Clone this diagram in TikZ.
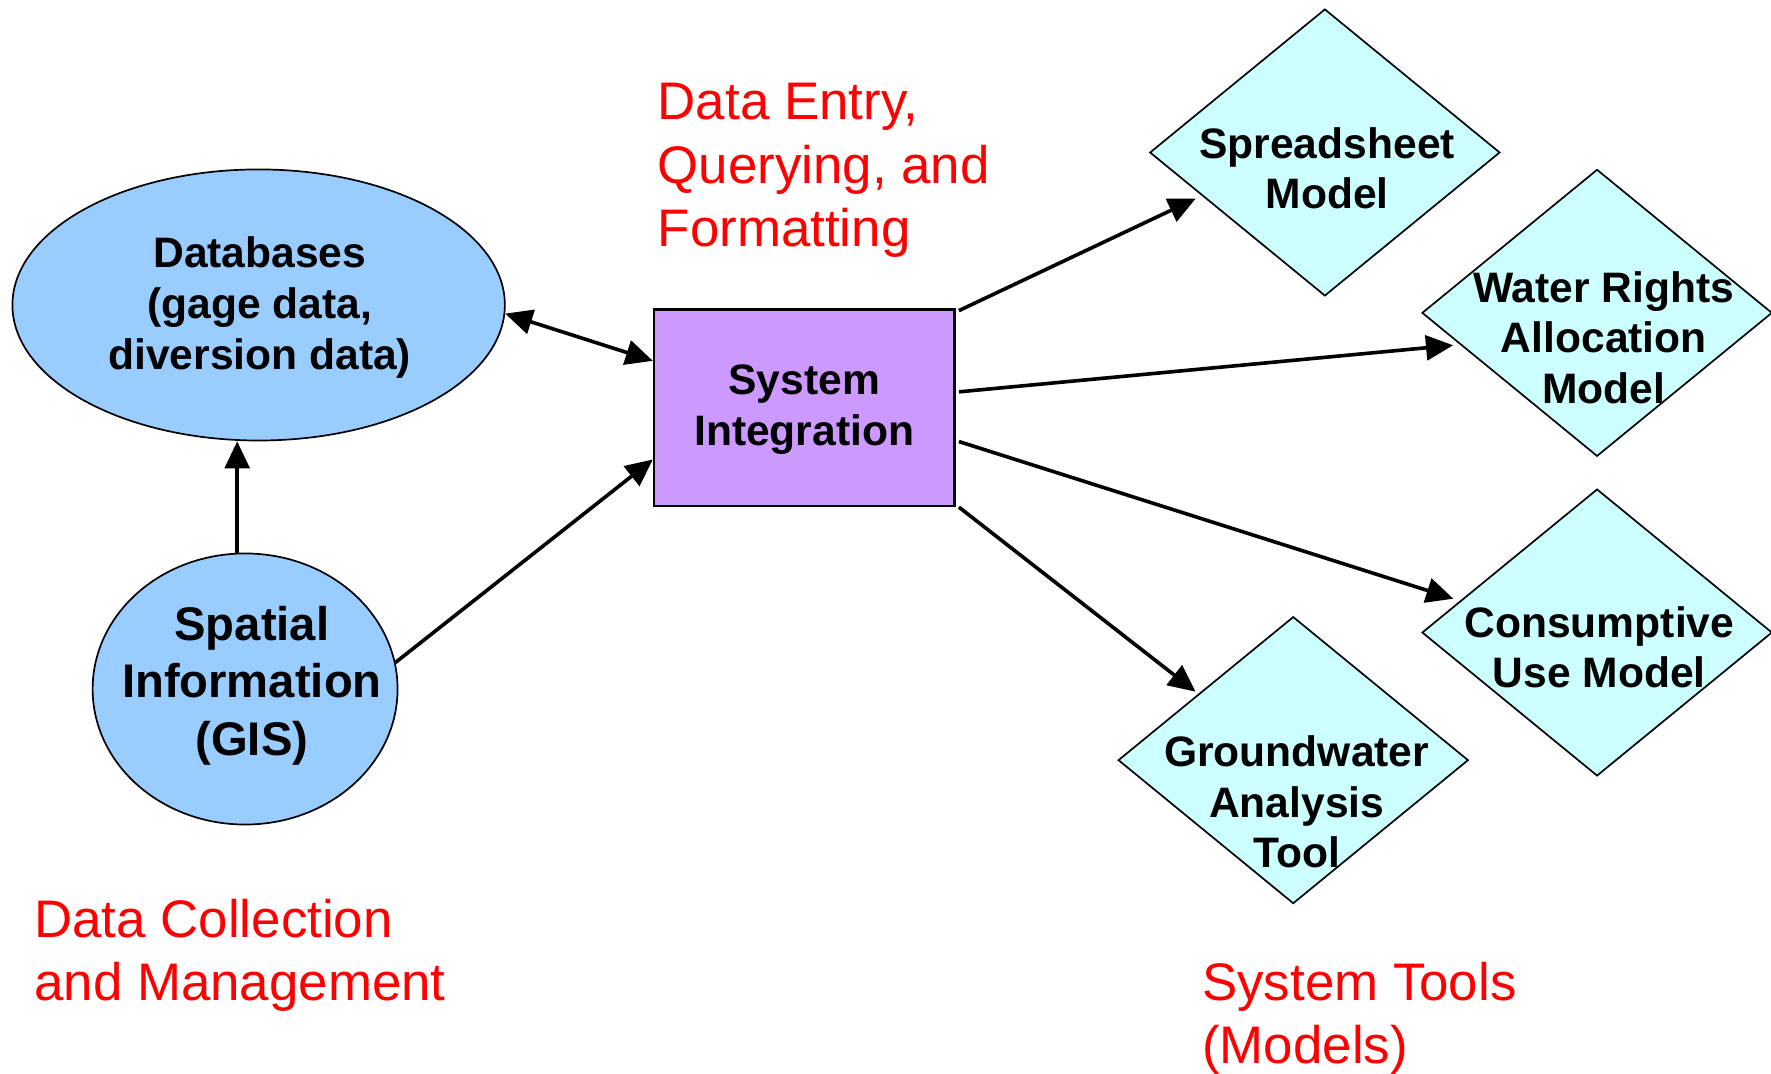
\documentclass[tikz,border=0pt]{standalone}
\usepackage{fontspec}
\setmainfont{Liberation Sans}
\usetikzlibrary{shapes.geometric,arrows.meta,calc}
\definecolor{dbblue}{HTML}{99CCFF}
\definecolor{sipurple}{HTML}{CC99FF}
\definecolor{dcyan}{HTML}{CCFFFF}
\definecolor{redtext}{HTML}{FF0000}
\begin{document}
\begin{tikzpicture}[x=0.5pt,y=-0.5pt,
  blk/.style={font=\fontsize{18.85}{22.5}\selectfont\bfseries, align=center, inner sep=0pt},
  bigblk/.style={font=\fontsize{20.9}{25.5}\selectfont\bfseries, align=center, inner sep=0pt},
  redlbl/.style={text=redtext, font=\fontsize{23.4}{28}\selectfont, align=left, inner sep=0pt, anchor=north west},
  ell/.style={ellipse, draw=black, line width=0.75pt, fill=dbblue, inner sep=0pt},
  dia/.style={diamond, draw=black, line width=0.75pt, fill=dcyan, inner sep=0pt, minimum width=155pt, minimum height=127pt},
  arr/.style={line width=1.6pt, -{Triangle[length=12pt,width=11pt]}},
  darr/.style={line width=1.6pt, {Triangle[length=12pt,width=11pt]}-{Triangle[length=12pt,width=11pt]}}]
\useasboundingbox (0,0) rectangle (1568,950);

% shapes
\node[ell, minimum width=218pt, minimum height=120pt] (db) at (229,270) {};
\node[blk] (dbt) at (230,272) {Databases\\(gage data,\\diversion data)};
\node[ell, minimum width=135pt, minimum height=120pt] (sp) at (217,610) {};
\node[bigblk] (spt) at (223,607) {Spatial\\Information\\(GIS)};
\node[rectangle, draw=black, line width=1pt, fill=sipurple, minimum width=133pt, minimum height=87pt] (si) at (712,361) {};
\node[blk] (sit) at (712,363) {System\\Integration};

\node[dia] (ss) at (1173,135) {};
\node[blk] (sst) at (1175,149) {Spreadsheet\\Model};
\node[dia] (wr) at (1414,277) {};
\node[blk] (wrt) at (1420,299) {Water Rights\\Allocation\\Model};
\node[dia] (cu) at (1414,560) {};
\node[blk] (cut) at (1416,573) {Consumptive\\Use Model};
\node[dia] (gw) at (1145,673) {};
\node[blk] (gwt) at (1148,710) {Groundwater\\Analysis\\Tool};

% red labels
\node[redlbl] (l1) at (582,73.5) {Data Entry,\\Querying, and\\Formatting};
\node[redlbl] (l2) at (30,795.5) {Data Collection\\and Management};
\node[redlbl] (l3) at (1064,851.5) {System Tools\\(Models)};

% connectors
\draw[arr] ([xshift=-3.5pt]sp.north) -- ([xshift=-9.5pt]db.south);
\draw[darr] (db.-2.5) -- ($(si.south west)!0.736!(si.north west)$);
\draw[arr] (sp.10) -- ($(si.south west)!0.24!(si.north west)$);
\draw[arr, shorten >=3pt] ([xshift=1.5pt,yshift=-1pt]si.north east) -- ($(ss.west)!0.3!(ss.south)$);
\draw[arr, shorten >=3pt] ([xshift=1.5pt]$(si.south east)!0.58!(si.north east)$) -- ($(wr.west)!0.22!(wr.south)$);
\draw[arr, shorten >=3pt] ([xshift=1.5pt]$(si.south east)!0.33!(si.north east)$) -- ($(cu.west)!0.22!(cu.north)$);
\draw[arr, shorten >=1.5pt] ([xshift=1.5pt]si.south east) -- ($(gw.west)!0.46!(gw.north)$);
\end{tikzpicture}
\end{document}
